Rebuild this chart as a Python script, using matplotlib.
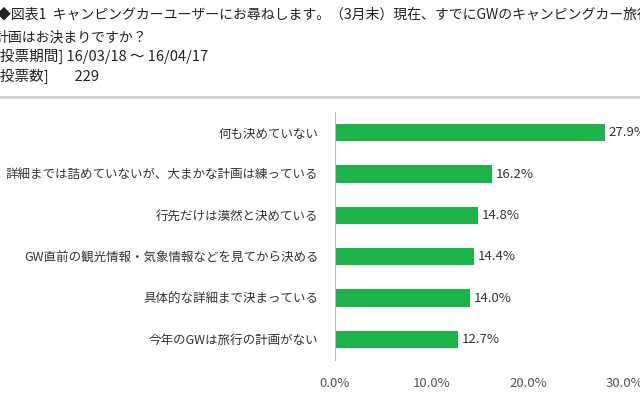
import matplotlib.pyplot as plt

plt.rcParams['font.family'] = 'Noto Sans CJK JP'

categories = ['何も決めていない', '詳細までは詰めていないが、大まかな計画は練っている',
              '行先だけは漠然と決めている', 'GW直前の観光情報・気象情報などを見てから決める',
              '具体的な詳細まで決まっている', '今年のGWは旅行の計画がない']
values = [27.9, 16.2, 14.8, 14.4, 14.0, 12.7]
xticks = [0, 10, 20, 30]

fig = plt.figure(figsize=(6.4, 4.0), dpi=100)
fig.text(-0.005, 0.965, '◆図表1  キャンピングカーユーザーにお尋ねします。（3月末）現在、すでにGWのキャンピングカー旅行の',
         fontsize=10, va='center', color='#222222')
fig.text(-0.008, 0.905, '計画はお決まりですか？', fontsize=10, va='center', color='#222222')
fig.text(-0.008, 0.86, '[投票期間] 16/03/18 ～ 16/04/17', fontsize=10.5, va='center', color='#222222')
fig.text(-0.008, 0.81, '[投票数]        229', fontsize=10.5, va='center', color='#222222')
fig.add_artist(plt.Line2D([0, 1], [0.757, 0.757], color='#d0d0d0', lw=2))

ax = fig.add_axes([335/640, 0.1, 290/640, 0.62])
y = list(range(len(categories)))[::-1]
ax.barh(y, values, height=0.42, color='#1db34a')
for yi, v in zip(y, values):
    ax.text(v + 0.4, yi, f'{v:.1f}%', va='center', fontsize=9.5, color='#333333')
ax.set_yticks(y)
ax.set_yticklabels(categories, fontsize=9, color='#333333')
ax.set_xlim(0, 30)
ax.set_ylim(-0.5, 5.5)
ax.set_xticks(xticks)
ax.set_xticklabels([f'{t:.1f}%' for t in xticks], fontsize=9.5, color='#555555')
ax.tick_params(length=0, pad=12)
for s in ['top', 'right', 'bottom']:
    ax.spines[s].set_visible(False)
ax.spines['left'].set_color('#bbbbbb')
fig.savefig('out.png', dpi=100)
